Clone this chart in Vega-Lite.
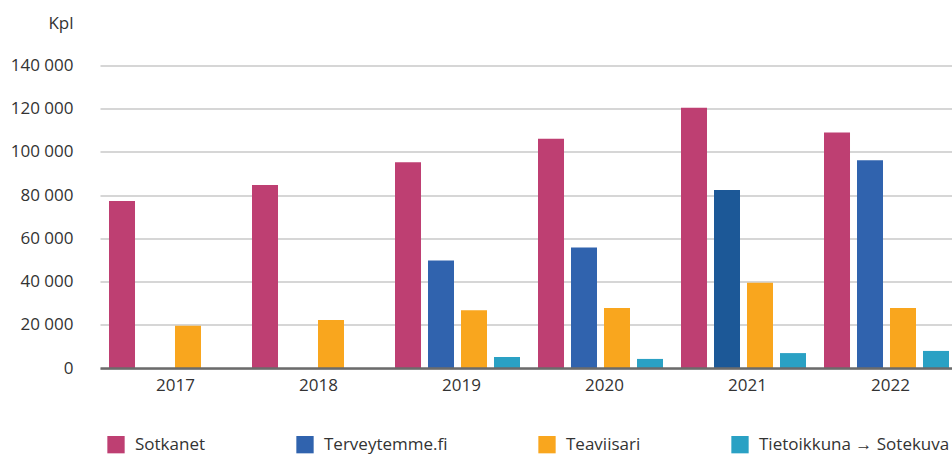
{
  "$schema": "https://vega.github.io/schema/vega-lite/v6.json",
  "autosize": {"type": "none"},
  "padding": {"left": 100, "top": 65.5, "right": 0, "bottom": 86},
  "width": 852,
  "height": 302.5,
  "background": "white",
  "config": {
    "view": {"stroke": null},
    "font": "Open Sans",
    "axis": {"labelFont": "Open Sans", "labelFontSize": 17, "labelColor": "#333333", "titleFont": "Open Sans"},
    "legend": {"labelFont": "Open Sans"}
  },
  "data": {
    "values": [
      {"year": "2017", "series": "Sotkanet", "value": 77300},
      {"year": "2017", "series": "Teaviisari", "value": 19500},
      {"year": "2018", "series": "Sotkanet", "value": 84700},
      {"year": "2018", "series": "Teaviisari", "value": 22200},
      {"year": "2019", "series": "Sotkanet", "value": 95200},
      {"year": "2019", "series": "Terveytemme.fi", "value": 49800},
      {"year": "2019", "series": "Teaviisari", "value": 26700},
      {"year": "2019", "series": "Tietoikkuna → Sotekuva", "value": 5100},
      {"year": "2020", "series": "Sotkanet", "value": 106100},
      {"year": "2020", "series": "Terveytemme.fi", "value": 55800},
      {"year": "2020", "series": "Teaviisari", "value": 27800},
      {"year": "2020", "series": "Tietoikkuna → Sotekuva", "value": 4200},
      {"year": "2021", "series": "Sotkanet", "value": 120400},
      {"year": "2021", "series": "Terveytemme.fi", "value": 82400},
      {"year": "2021", "series": "Teaviisari", "value": 39500},
      {"year": "2021", "series": "Tietoikkuna → Sotekuva", "value": 6900},
      {"year": "2022", "series": "Sotkanet", "value": 109000},
      {"year": "2022", "series": "Terveytemme.fi", "value": 96100},
      {"year": "2022", "series": "Teaviisari", "value": 27800},
      {"year": "2022", "series": "Tietoikkuna → Sotekuva", "value": 7900}
    ]
  },
  "mark": {"type": "bar"},
  "encoding": {
    "x": {
      "field": "year", "type": "nominal",
      "scale": {"range": [0, 858], "paddingInner": 0, "paddingOuter": 0},
      "axis": {"title": null, "labelAngle": 0, "ticks": false, "domainColor": "#6b6b6b", "domainWidth": 2.5, "labelPadding": 9, "labelOffset": 4, "zindex": 1}
    },
    "xOffset": {
      "field": "series", "type": "nominal",
      "scale": {"domain": ["Sotkanet", "Terveytemme.fi", "Teaviisari", "Tietoikkuna → Sotekuva"], "paddingInner": 0.212, "paddingOuter": 0.273}
    },
    "y": {
      "field": "value", "type": "quantitative",
      "scale": {"domain": [0, 140000], "nice": false},
      "axis": {
        "title": "Kpl", "titleAngle": 0, "titleAlign": "right", "titleBaseline": "alphabetic", "titleX": -27, "titleY": -37,
        "titleFontSize": 17, "titleFontWeight": "normal", "titleColor": "#333333",
        "values": [0, 20000, 40000, 60000, 80000, 100000, 120000, 140000],
        "labelExpr": "replace(format(datum.value, ',d'), ',', ' ')",
        "domain": false, "ticks": false, "labelPadding": 27,
        "gridColor": "#c8c8c8", "gridWidth": 1.5
      }
    },
    "color": {
      "condition": {"test": "datum.year == '2021' && datum.series == 'Terveytemme.fi'", "value": "#1c5897"},
      "field": "series", "type": "nominal",
      "scale": {"domain": ["Sotkanet", "Terveytemme.fi", "Teaviisari", "Tietoikkuna → Sotekuva"], "range": ["#be3f72", "#3063ae", "#f9a61e", "#2aa1c4"]},
      "legend": {
        "title": null, "orient": "none", "direction": "horizontal", "legendX": 7, "legendY": 370,
        "symbolType": "square", "symbolSize": 300, "symbolStrokeWidth": 0, "symbolOpacity": 1,
        "labelFontSize": 17, "labelColor": "#333333", "labelOffset": 10, "columnPadding": 90, "padding": 0, "labelLimit": 400
      }
    }
  }
}
